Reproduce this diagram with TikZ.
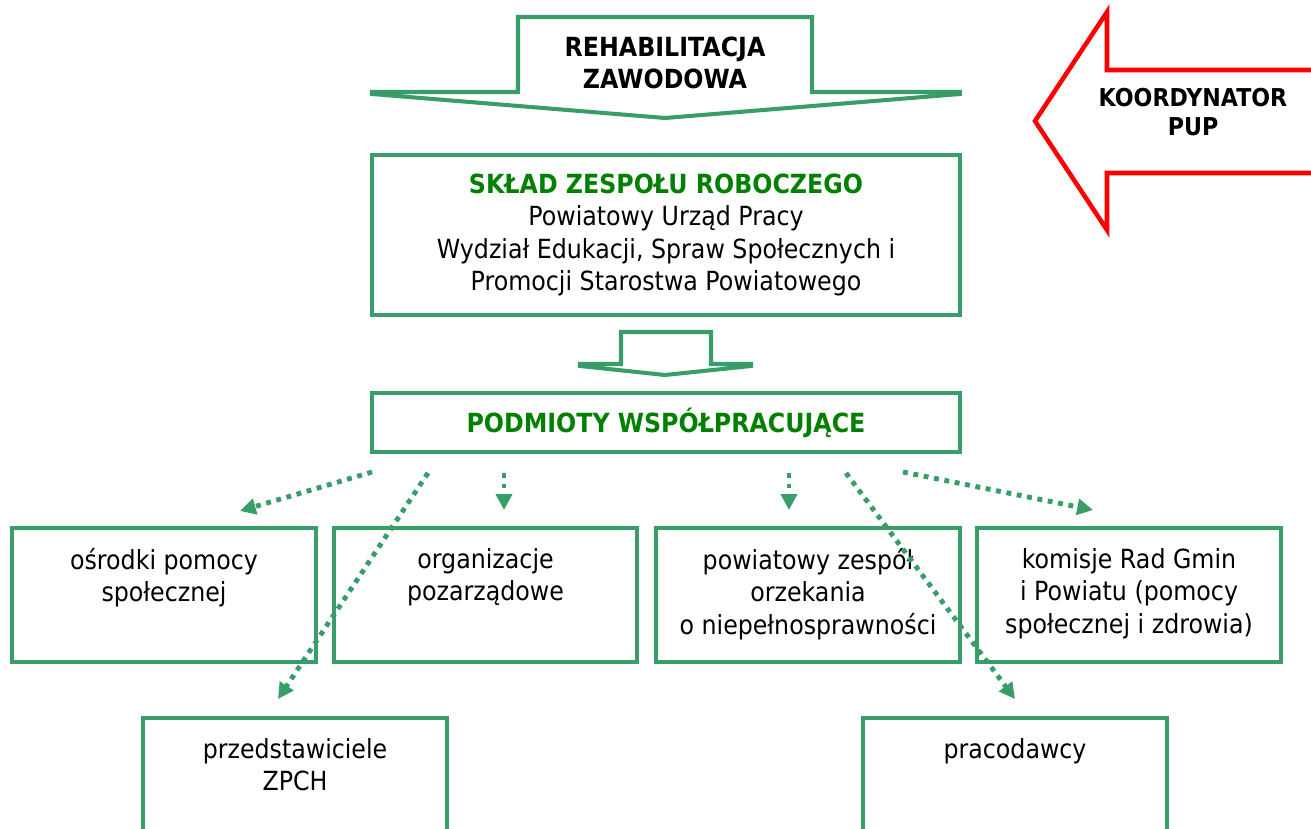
\documentclass[tikz,border=0pt]{standalone}
\usepackage{fontspec}
\setmainfont{DejaVu Sans}[FakeStretch=0.9]
\usetikzlibrary{arrows.meta,positioning}
\definecolor{zielen}{RGB}{56,157,105}
\definecolor{tytul}{RGB}{0,128,0}
\tikzset{
	ramka/.style={draw=zielen, line width=2.3pt},
	skrzynka/.style={ramka, minimum width=6.08cm, minimum height=2.68cm, inner sep=0pt},
	napis/.style={align=center, inner sep=0pt, font=\fontsize{15}{18.4}\selectfont},
	kropki/.style={draw=zielen, line width=2.8pt, dash pattern=on 2.8pt off 3.2pt, -{Triangle[length=9pt,width=9pt]}}
}
\begin{document}
\begin{tikzpicture}[x=0.02cm, y=-0.02cm]
			\clip (0,0) rectangle (1311,828);
			
			\draw [ramka, line join=miter] (372,92) -- (518,92) -- (518,17) -- (812,17) -- (812,92) -- (960,92) -- (960,94) -- (665,118) -- (372,94) -- cycle;
			\node [napis, font=\fontsize{15}{18.6}\selectfont\bfseries] (rehab) at (665,63) {REHABILITACJA\\ZAWODOWA};
			
			\draw [red, line width=2.6pt, line join=miter] (1320,70) -- (1107,70) -- (1107,12) -- (1035,121) -- (1107,230) -- (1107,173) -- (1320,173);
			\node [napis, font=\fontsize{14}{16.4}\selectfont\bfseries] (koord) at (1193,112) {KOORDYNATOR\\PUP};
			
			\node [ramka, minimum width=11.76cm, minimum height=3.2cm] (sklad) at (666,235) {};
			\node [napis] (skladtxt) at (sklad.center) {{\bfseries\color{tytul}SKŁAD ZESPOŁU ROBOCZEGO}\\Powiatowy Urząd Pracy\\Wydział Edukacji, Spraw Społecznych i\\Promocji Starostwa Powiatowego};
			
			\draw [ramka, line join=miter] (580,364) -- (621,364) -- (621,332) -- (711,332) -- (711,364) -- (751,364) -- (751,366) -- (665,375) -- (580,366) -- cycle;
			
			\node [ramka, minimum width=11.76cm, minimum height=1.18cm] (podmioty) at (666,422.5) {};
			\node [napis, font=\fontsize{15}{18.4}\selectfont\bfseries, text=tytul] (podmiotytxt) at (podmioty.center) {PODMIOTY WSPÓŁPRACUJĄCE};
			
			\node [skrzynka] (osrodki) at (164,595) {};
			\node [napis, below=0.44cm of osrodki.north] (osrodkitxt) {ośrodki pomocy\\społecznej};
			\node [skrzynka] (organizacje) at (485.5,595) {};
			\node [napis, below=0.44cm of organizacje.north] (organizacjetxt) {organizacje\\pozarządowe};
			\node [skrzynka] (zespol) at (808,595) {};
			\node [napis, below=0.44cm of zespol.north] (zespoltxt) {powiatowy zespół\\orzekania\\o niepełnosprawności};
			\node [skrzynka] (komisje) at (1129,595) {};
			\node [napis, below=0.44cm of komisje.north] (komisjetxt) {komisje Rad Gmin\\i Powiatu (pomocy\\społecznej i zdrowia)};
			
			\node [skrzynka] (zpch) at (295,785) {};
			\node [napis, below=0.44cm of zpch.north] (zpchtxt) {przedstawiciele\\ZPCH};
			\node [skrzynka] (pracodawcy) at (1015,785) {};
			\node [napis, below=0.44cm of pracodawcy.north] (pracodawcytxt) {pracodawcy};
			
			\coordinate (s1) at (372,472);
			\coordinate (k1) at (240,511);
			\coordinate (s2) at (428,473);
			\coordinate (k2) at (278,699);
			\coordinate (s3) at (504,473);
			\coordinate (k3) at (504,510);
			\coordinate (s4) at (789,473);
			\coordinate (k4) at (789,510);
			\coordinate (s5) at (846,473);
			\coordinate (k5) at (1015,699);
			\coordinate (s6) at (903,472);
			\coordinate (k6) at (1093,510);
			\draw [kropki] (s1) -- (k1);
			\draw [kropki] (s2) -- (k2);
			\draw [kropki] (s3) -- (k3);
			\draw [kropki] (s4) -- (k4);
			\draw [kropki] (s5) -- (k5);
			\draw [kropki] (s6) -- (k6);
\end{tikzpicture}
\end{document}
